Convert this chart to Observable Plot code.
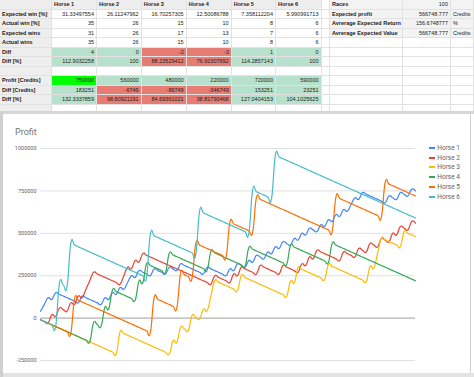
<!DOCTYPE html>
<html><head><meta charset="utf-8">
<script src="https://cdn.jsdelivr.net/npm/d3@7"></script>
<script src="https://cdn.jsdelivr.net/npm/@observablehq/plot@0.6"></script>
<style>
html,body{margin:0;padding:0;background:#fff;width:474px;height:377px;overflow:hidden;position:relative;font-family:Arial,"Liberation Sans",sans-serif}
.c{position:absolute;box-sizing:border-box;font-size:5.5px;white-space:nowrap;overflow:hidden;color:#222;border-right:1px solid #e2e2e2;border-bottom:1px solid #e2e2e2;padding:0 2px}
.b{font-weight:bold}
.r{text-align:right}
#chart{position:absolute;left:0;top:140px}
.lg{position:absolute;font-family:Roboto,sans-serif;font-size:6.5px;color:#616161;line-height:8px;white-space:nowrap}
.lg i{position:absolute;left:-8px;top:3px;width:6px;height:2px}
</style></head><body>
<div id="sheet"></div>
<div style="position:absolute;left:0;top:111px;width:474px;height:3px;background:#d6d6d6"></div>
<div style="position:absolute;left:0;top:111px;width:3px;height:266px;background:#d0d0d0"></div>
<div style="position:absolute;left:3px;top:373px;width:471px;height:4px;background:#e3e3e3"></div>
<div style="position:absolute;left:470px;top:114px;width:1px;height:259px;background:#d0d0d0"></div>
<div style="position:absolute;left:15px;top:126.5px;font-family:Roboto,sans-serif;font-size:9px;line-height:10px;color:#757575">Profit</div>
<div id="chart"></div>
<div id="legend"></div>
<script>
// ---- spreadsheet data ----
const horses = ["Horse 1","Horse 2","Horse 3","Horse 4","Horse 5","Horse 6"];
const expWinPct = ["31.33497554","26.11247962","16.70257305","12.50086788","7.358112204","5.990991713"];
const actWinPct = [35,26,15,10,8,6];
const expWins = [31,26,17,13,7,6];
const actWins = [35,26,15,10,8,6];
const diffWins = [4,0,-2,-3,1,0];
const diffWinPct = ["112.9032258","100","88.23529412","76.92307692","114.2857143","100"];
const profitCredits = [750000,560000,480000,220000,720000,590000];
const diffCredits = [183251,-6749,-86749,-346749,153251,23251];
const diffProfitPct = ["132.3337859","98.80921191","84.69361021","38.81790468","127.0404153","104.1025625"];
const summaryLabels = ["Races","Expected profit","Avrerage Expected Return","Avrerage Expected Value"];
const summaryValues = ["100","566748.777","156.6748777","566748.777"];
const summaryUnits = ["","Credits","%","Credits"];

// ---- chart data: cumulative profit per race, in thousands of credits ----
const unit = 1000;
const horse1 = [40,80,120,110,150,140,130,120,110,100, 90,130,120,110,100,90,80,120,110,150, 140,180,170,210,250,240,280,270,260,250, 290,280,270,260,300,290,280,320,310,300, 290,280,270,260,300,290,280,270,260,250, 290,280,320,310,300,340,330,370,360,350, 390,380,420,410,450,440,430,470,460,500, 490,530,520,510,550,540,580,570,610,600, 640,630,670,710,700,740,730,720,710,700, 690,680,720,710,700,740,730,720,760,750];
const horse2 = [-10,-20,-30,20,10,60,50,40,90,80, 130,120,170,220,270,260,250,240,230,220, 210,200,250,300,290,340,330,380,370,360, 350,340,330,320,310,300,290,280,270,260, 250,240,230,220,210,200,250,240,230,220, 210,260,250,300,290,280,270,260,310,300, 290,280,270,260,310,300,290,280,270,320, 310,360,350,400,390,380,370,360,350,340, 390,380,370,360,410,400,390,440,430,420, 470,460,450,500,490,540,530,520,570,560];
const horse3 = [-10,-20,-30,-40,-50,-60,-70,-80,-90,-100, -110,-120,-130,-140,-150,-160,-170,-180,-190,-200, -210,-81,-91,-101,-111,-121,-131,-141,-151,-161, -171,-181,-191,-201,-211,-133,-143,-54,-64,-74, 15,5,-5,53,43,132,221,211,201,191, 181,171,161,249,239,229,219,209,199,189, 179,169,159,149,139,129,218,208,297,287, 277,267,257,247,237,227,315,305,295,285, 275,265,255,245,235,225,215,304,294,383, 471,461,451,441,431,421,510,500,490,480];
const horse4 = [-10,-20,-30,-40,-50,-60,-70,-80,-90,-100, -110,-120,-130,-140,-28,-38,-48,64,54,166, 156,146,136,126,116,106,218,208,320,310, 300,290,280,270,382,372,362,352,342,332, 322,312,302,292,282,394,384,374,364,354, 344,334,324,314,304,416,406,396,386,376, 366,356,346,336,326,316,428,418,408,398, 388,378,368,358,348,338,328,440,430,420, 410,400,390,380,370,360,350,340,330,320, 310,300,290,280,270,260,250,240,230,220];
const horse5 = [-10,-20,-30,-40,-50,-60,-70,-80,-90,115, 105,95,85,75,65,55,45,35,25,15, 5,-5,-15,-25,-35,-45,-55,-65,-75,-85, 120,110,100,90,80,70,60,265,255,245, 235,440,430,420,410,400,390,380,370,360, 565,555,545,535,525,515,505,710,700,690, 680,670,660,650,640,630,620,610,600,590, 580,570,560,550,540,530,520,510,715,705, 695,685,675,665,655,645,635,625,615,605, 595,800,790,780,770,760,750,740,730,720];
const horse6 = [-10,-20,-30,-40,-50,205,195,185,440,430, 420,410,400,390,380,370,360,350,340,330, 320,310,300,290,280,270,260,250,240,495, 485,475,465,455,445,435,425,415,405,395, 385,375,630,620,610,600,590,580,570,560, 550,540,530,520,510,500,755,745,735,725, 715,705,960,950,940,930,920,910,900,890, 880,870,860,850,840,830,820,810,800,790, 780,770,760,750,740,730,720,710,700,690, 680,670,660,650,640,630,620,610,600,590];
const series = [horse1,horse2,horse3,horse4,horse5,horse6];
const yTicks = [-250000,0,250000,500000,750000,1000000];
const colors = ["#4285f4","#ea4335","#fbbc04","#34a853","#ff6d01","#46bdc6"];

// ---- spreadsheet rendering ----
const sheet = document.getElementById("sheet");
const colX = [0,52,97,141.7,186.7,231.7,276,321.5,330,403,451,474];
const rowH = 9.5, row0 = 0.4;
const GREEN = "#b7e1cd", RED = "#e67c73", LIME = "#00ff00", HEAD = "#eeeeee";
function cell(row, col, text, cls, bg){
  const d = document.createElement("div");
  d.className = "c " + (cls||"");
  d.style.left = colX[col] + "px";
  d.style.width = (colX[col+1]-colX[col]) + "px";
  d.style.top = (row0 + row*rowH) + "px";
  d.style.height = rowH + "px";
  d.style.lineHeight = rowH + "px";
  if (bg) d.style.background = bg;
  d.textContent = text;
  sheet.appendChild(d);
}
const rows = [
  ["Expected win [%]", expWinPct, null],
  ["Actual win [%]", actWinPct, null],
  ["Expected wins", expWins, null],
  ["Actual wins", actWins, null],
  ["Diff", diffWins, v => +v >= 0 ? GREEN : RED],
  ["Diff [%]", diffWinPct, v => +v >= 100 ? GREEN : RED],
  ["", ["","","","","",""], null],
  ["Profit [Credits]", profitCredits, v => +v === d3.max(profitCredits) ? LIME : GREEN],
  ["Diff [Credits]", diffCredits, v => +v >= 0 ? GREEN : RED],
  ["Diff [%]", diffProfitPct, v => +v >= 100 ? GREEN : RED],
  ["", ["","","","","",""], null]
];
cell(0, 0, "", "b", HEAD);
horses.forEach((h,i) => cell(0, i+1, h, "b", HEAD));
cell(0, 7, "", "", null);
rows.forEach(([label, vals, colorFn], ri) => {
  const r = ri + 1;
  cell(r, 0, label, "b", HEAD);
  vals.forEach((v,i) => cell(r, i+1, String(v), "r", colorFn && v !== "" ? colorFn(v) : "#fff"));
  cell(r, 7, "", "", null);
});
for (let r = 0; r < 12; r++) {
  const k = r < 4;
  cell(r, 8, k ? summaryLabels[r] : "", "b", k ? "#f3f3f3" : "#fff");
  cell(r, 9, k ? summaryValues[r] : "", "r", k ? "#f3f3f3" : "#fff");
  cell(r, 10, k ? summaryUnits[r] : "", "", k ? "#f3f3f3" : "#fff");
}

// ---- chart ----
const data = series.flatMap((s, i) => s.map((v, j) => ({race: j + 1, profit: v * unit, horse: horses[i]})));
const chart = Plot.plot({
  width: 474, height: 225,
  marginLeft: 40, marginRight: 59, marginTop: 8, marginBottom: 5,
  style: {background: "transparent", fontFamily: "Roboto, sans-serif", overflow: "visible"},
  x: {domain: [1, 100], axis: null},
  y: {domain: [-250000, 1000000], axis: null},
  color: {domain: horses, range: colors},
  marks: [
    Plot.gridY(yTicks.filter(d => d !== 0), {stroke: "#e0e0e0", strokeOpacity: 1, strokeWidth: 1}),
    Plot.ruleY([0], {stroke: "#9e9e9e", strokeWidth: 1}),
    Plot.axisY(yTicks, {tickSize: 0, tickPadding: 4, tickFormat: d => String(d), fontSize: 5.5, fill: "#616161", label: null}),
    Plot.line(data, {x: "race", y: "profit", z: "horse", stroke: "horse", curve: "cardinal", tension: -0.4, strokeWidth: 1.2})
  ]
});
document.getElementById("chart").appendChild(chart);

// ---- legend ----
const legend = document.getElementById("legend");
horses.forEach((h, i) => {
  const d = document.createElement("div");
  d.className = "lg";
  d.style.left = "437.3px";
  d.style.top = (143.7 + i * 9.8) + "px";
  d.innerHTML = `<i style="background:${colors[i]}"></i>${h}`;
  legend.appendChild(d);
});
</script>
</body></html>
